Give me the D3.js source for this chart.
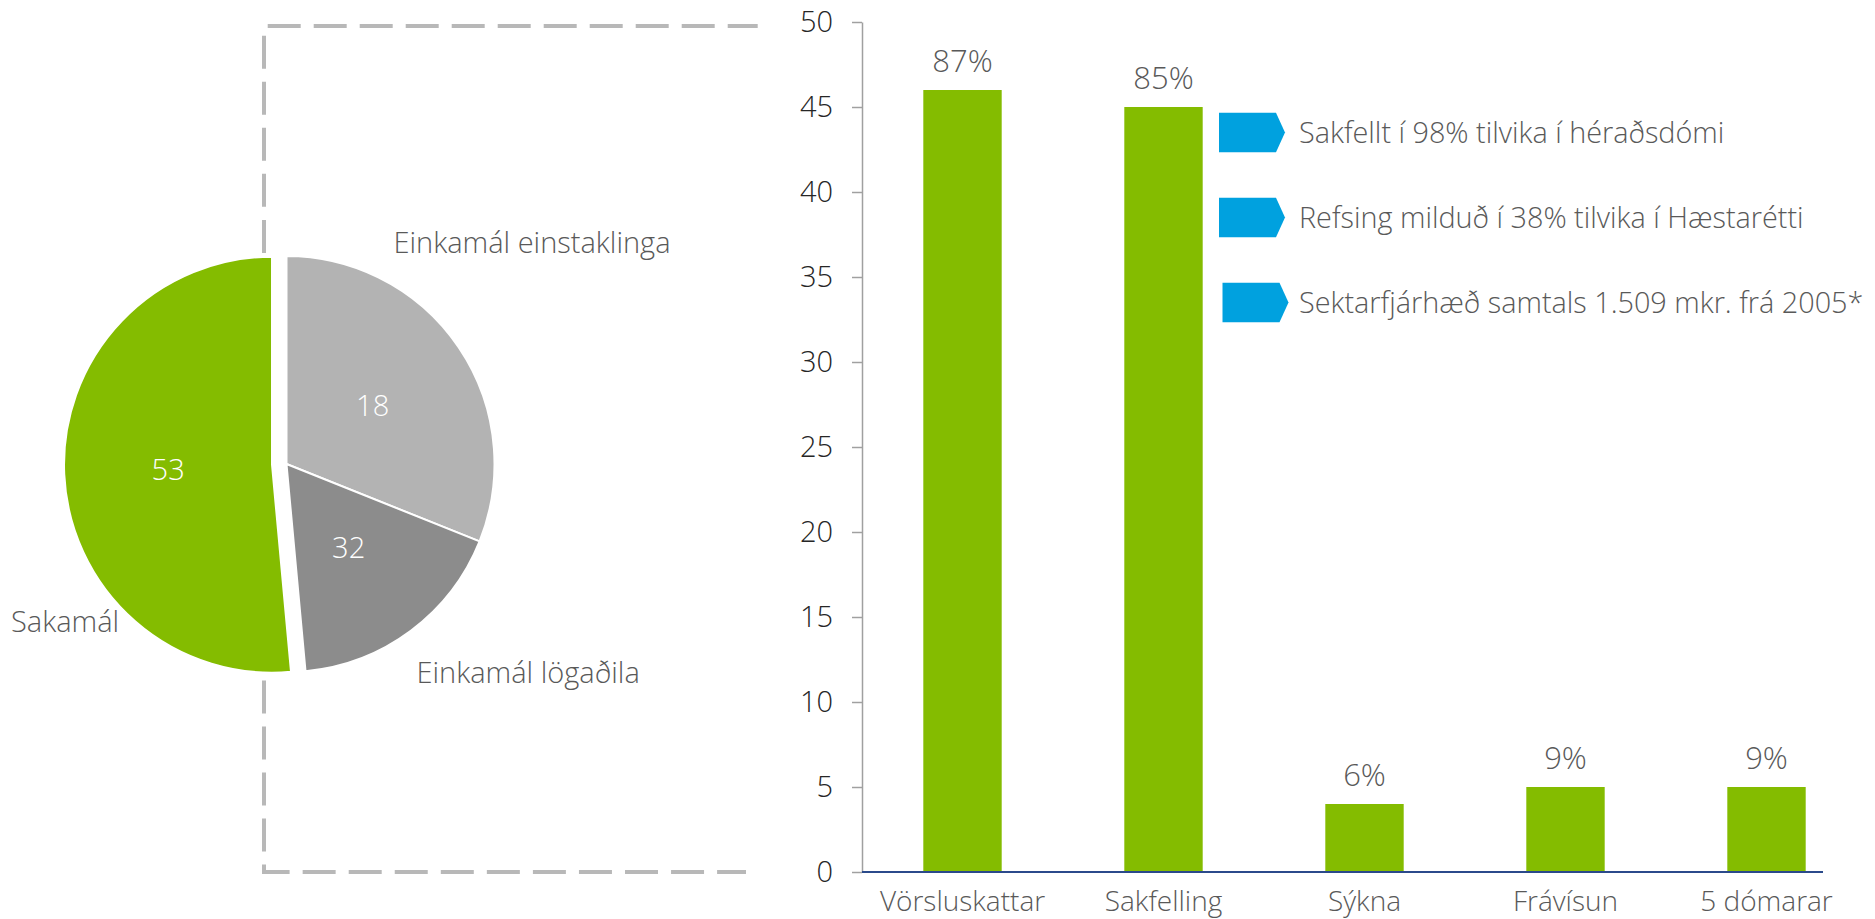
<!DOCTYPE html>
<html>
<head>
<meta charset="utf-8">
<script src="https://cdn.jsdelivr.net/npm/d3@7"></script>
<style>
  html, body { margin: 0; padding: 0; background: #ffffff; }
  svg { display: block; font-family: "Open Sans", "Noto Sans", sans-serif; font-weight: 300; }
</style>
</head>
<body>
<script>
// ---------- DATA ----------
const pieCategories = ["Einkamál einstaklinga", "Einkamál lögaðila", "Sakamál"];
const pieValues = [32, 18, 53];
const pieValueLabels = ["18", "32", "53"];

const barCategories = ["Vörsluskattar", "Sakfelling", "Sýkna", "Frávísun", "5 dómarar"];
const barValues = [46, 45, 4, 5, 5];
const barLabels = ["87%", "85%", "6%", "9%", "9%"];

const yTicks = [0, 5, 10, 15, 20, 25, 30, 35, 40, 45, 50];

const callouts = [
  "Sakfellt í 98% tilvika í héraðsdómi",
  "Refsing milduð í 38% tilvika í Hæstarétti",
  "Sektarfjárhæð samtals 1.509 mkr. frá 2005*"
];

// ---------- STYLE ----------
const pieColors = ["#b3b3b3", "#8c8c8c", "#84bc00"];
const barColor = "#84bc00";
const textGray = "#595959";
const blue = "#00a1df";
const FONT = "'Open Sans', 'Noto Sans', sans-serif";

const W = 1875, H = 919;
const svg = d3.select("body").append("svg").attr("width", W).attr("height", H);

// ---------- DASHED FRAME ----------
svg.append("path")
  .attr("d", "M267.7,26 H757.7")
  .attr("fill", "none").attr("stroke", "#b8b8b8").attr("stroke-width", 4)
  .attr("stroke-dasharray", "33,13");
svg.append("path")
  .attr("d", "M264,35.7 V872 H746")
  .attr("fill", "none").attr("stroke", "#b8b8b8").attr("stroke-width", 4)
  .attr("stroke-dasharray", "33,13.05");

// ---------- PIE ----------
const cx = 286.5, cy = 464, R = 208, explode = 14.5;
const pie = d3.pie().sort(null).value(d => d);
const arcs = pie(pieValues);
const arc = d3.arc().innerRadius(0).outerRadius(R);
const pg = svg.append("g").attr("transform", `translate(${cx},${cy})`);

function offsetOf(d, i) {
  if (i !== 2) return [0, 0];
  const a = (d.startAngle + d.endAngle) / 2;
  return [Math.sin(a) * explode, -Math.cos(a) * explode];
}

pg.selectAll("path.slice").data(arcs).join("path")
  .attr("class", "slice")
  .attr("d", arc)
  .attr("transform", (d, i) => { const o = offsetOf(d, i); return `translate(${o[0]},${o[1]})`; })
  .attr("fill", (d, i) => pieColors[i])
  .attr("stroke", "#ffffff").attr("stroke-width", 2).attr("stroke-linejoin", "round");

pg.selectAll("text.val").data(arcs).join("text")
  .attr("class", "val")
  .attr("transform", (d, i) => {
    const c = arc.centroid(d), o = offsetOf(d, i);
    return `translate(${c[0] + o[0]},${c[1] + o[1]})`;
  })
  .attr("text-anchor", "middle").attr("dy", "0.36em")
  .attr("fill", "#ffffff").attr("font-size", 29)
  .text((d, i) => pieValueLabels[i]);

// pie category labels (relative to pie centre)
const pieLabelPos = [[107, -211], [130, 219], [-275.5, 168]];
pg.selectAll("text.cat").data(pieCategories).join("text")
  .attr("class", "cat")
  .attr("x", (d, i) => pieLabelPos[i][0]).attr("y", (d, i) => pieLabelPos[i][1])
  .attr("fill", textGray).attr("font-size", 29)
  .text(d => d);

// ---------- BAR CHART ----------
const x = d3.scaleBand().domain(barCategories).range([862, 1867]).paddingInner(0.61).paddingOuter(0.305);
const y = d3.scaleLinear().domain([0, 50]).range([872, 22]);

// y axis
const yAxis = d3.axisLeft(y).tickValues(yTicks).tickSize(10).tickPadding(19).tickSizeOuter(0);
const ya = svg.append("g").attr("transform", "translate(862,0)").call(yAxis);
ya.select(".domain").attr("stroke", "#a0a0a0").attr("stroke-width", 1.5);
ya.selectAll(".tick line").attr("stroke", "#a0a0a0").attr("stroke-width", 1.5);
ya.selectAll(".tick text").attr("font-size", 29).attr("fill", "#262626")
  .attr("font-family", FONT).attr("font-weight", 300);

// bars
svg.selectAll("rect.bar").data(barValues).join("rect")
  .attr("class", "bar")
  .attr("x", (d, i) => x(barCategories[i]))
  .attr("width", x.bandwidth())
  .attr("y", d => y(d))
  .attr("height", d => y(0) - y(d))
  .attr("fill", barColor);

// value labels
svg.selectAll("text.pct").data(barValues).join("text")
  .attr("class", "pct")
  .attr("x", (d, i) => x(barCategories[i]) + x.bandwidth() / 2)
  .attr("y", d => y(d) - 18)
  .attr("text-anchor", "middle")
  .attr("fill", textGray).attr("font-size", 31)
  .text((d, i) => barLabels[i]);

// x axis labels
const xAxis = d3.axisBottom(x).tickSize(0).tickPadding(19);
const xa = svg.append("g").attr("transform", `translate(0,${y(0)})`).call(xAxis);
xa.select(".domain").remove();
xa.selectAll(".tick text").attr("font-size", 28).attr("fill", textGray)
  .attr("font-family", FONT).attr("font-weight", 300).attr("dy", "0.71em");
// baseline
svg.append("line")
  .attr("x1", 862).attr("x2", 1823).attr("y1", y(0)).attr("y2", y(0))
  .attr("stroke", "#2b4a8b").attr("stroke-width", 2);

// callouts (arrow tags)
const calloutLevels = [43.5, 38.5, 33.5];
const calloutX = [1219, 1219, 1222.5];
const tagW = 57, tagTip = 9, tagH = 39.5;
const cg = svg.selectAll("g.callout").data(callouts).join("g")
  .attr("class", "callout")
  .attr("transform", (d, i) => `translate(${calloutX[i]},${y(calloutLevels[i])})`);
cg.append("path")
  .attr("d", `M0,${-tagH / 2} H${tagW} L${tagW + tagTip},0 L${tagW},${tagH / 2} H0 Z`)
  .attr("fill", blue);
cg.append("text")
  .attr("x", (d, i) => 1299 - calloutX[i])
  .attr("dy", "0.36em")
  .attr("fill", textGray).attr("font-size", 28.8)
  .text(d => d);
</script>
</body>
</html>
